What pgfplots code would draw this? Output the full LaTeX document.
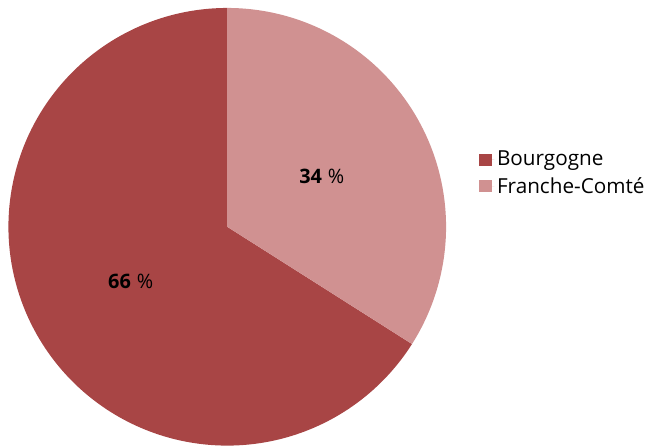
\documentclass[border=0pt]{standalone}
\usepackage{pgfplots}
\pgfplotsset{compat=1.18}
\usepackage{pgfplotstable}
\usepackage{fontspec}
\setmainfont{Open Sans}
\definecolor{bourg}{HTML}{A84545}
\definecolor{franche}{HTML}{D09191}
\pgfplotstableread{
region value
Bourgogne 66
Franche 34
}\piedata
\begin{document}
\pgfplotstablegetelem{0}{value}\of\piedata\let\vA\pgfplotsretval
\pgfplotstablegetelem{1}{value}\of\piedata\let\vB\pgfplotsretval
\pgfmathsetmacro{\angB}{90-\vB/(\vA+\vB)*360}
\begin{tikzpicture}
\useasboundingbox (-170.25pt,-165pt) rectangle (315pt,171pt);
\begin{axis}[
  at={(-1.5pt,0)}, anchor=center,
  scale only axis, width=330pt, height=330pt,
  xmin=-1, xmax=1, ymin=-1, ymax=1,
  hide axis, clip=false,
  legend style={at={(axis cs:1.15,0.245)}, anchor=west, draw=none, fill=none,
    font=\fontsize{15.6}{18}\selectfont, row sep=3pt, inner sep=0pt,
    /tikz/every even column/.append style={column sep=4.5pt}},
  legend cell align=left,
  legend image code/.code={\fill[#1] (0pt,-4.5pt) rectangle (9.5pt,4.5pt);
    \path (0pt,0pt) -- (11.5pt,0pt);},
]
\addplot[draw=none, fill=bourg, domain=-270:\angB, samples=300, variable=\t]
  ({cos(\t)},{sin(\t)}) -- (axis cs:0,0) -- cycle;
\addplot[draw=none, fill=franche, domain=\angB:90, samples=200, variable=\t]
  ({cos(\t)},{sin(\t)}) -- (axis cs:0,0) -- cycle;
\legend{Bourgogne, Franche-Comté}
\node[font=\fontsize{15}{18}\selectfont] at (axis cs:0.432,0.232) {\textbf{\vB}\hspace{0.3em}\%};
\node[font=\fontsize{15}{18}\selectfont] at (axis cs:-0.441,-0.25) {\textbf{\vA}\hspace{0.3em}\%};
\end{axis}
\end{tikzpicture}
\end{document}
